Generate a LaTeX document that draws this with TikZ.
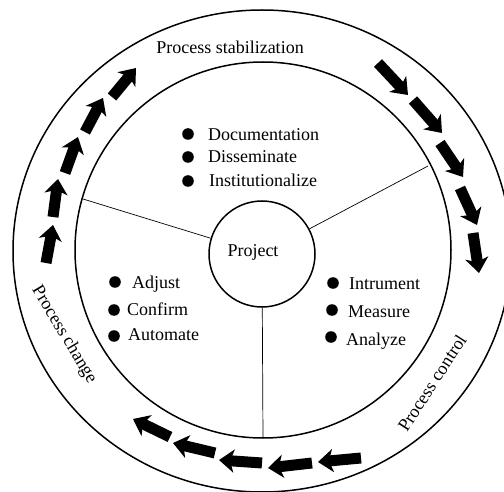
\documentclass[tikz,border=0pt]{standalone}
\usepackage{fontspec}
\setmainfont{Liberation Serif}
\usetikzlibrary{arrows.meta}

\begin{document}
\begin{tikzpicture}[x=1pt,y=-1pt,
    every node/.style={font=\fontsize{18}{21}\selectfont,inner sep=0pt},
    ring/.style={line width=1.5pt},
    spoke/.style={line width=0.7pt},
    blk/.style={line width=11pt,-{Stealth[length=15pt,width=23pt,inset=4pt]}},
    item/.style={anchor=base west},
    hub/.style={draw,circle,line width=1.5pt,minimum size=106pt}]
  \useasboundingbox (0,0) rectangle (504,492);
  % rings
  \draw[ring] (262,251) ellipse [x radius=249,y radius=241];
  \draw[ring] (263,250) circle [radius=188];
  \node[hub] (proj) at (262,254) {};
  \node (projtxt) at (253,252) {Project};
  % spokes
  \coordinate (sl) at (83,199);
  \coordinate (sr) at (428,166);
  \coordinate (sb) at (263,438);
  \draw[spoke] (proj) -- (sl);
  \draw[spoke] (proj) -- (sr);
  \draw[spoke] (proj) -- (sb);
  % items
  \foreach \bx/\by/\tx/\ty/\t [count=\i] in {
      188/134/208/141/Documentation, 188/157/208/163/Disseminate,
      188/181/209/187/Institutionalize,
      115/282/132/288/Adjust, 114/310/127/316/Confirm, 114/336/128/341/Automate,
      333/283/349/290/Intrument, 332/310/348/317/Measure, 331/337/346/345/Analyze} {
    \fill (\bx,\by) circle [radius=5.8];
    \node[item] (it\i) at (\tx,\ty) {\t};
  }
  % phases
  \node (stab) at (230,47) {Process stabilization};
  \node[rotate=-59] (chg) at (64,335) {Process change};
  \node[rotate=57] (ctl) at (432,383) {Process control};
  % block arrows
  \foreach \xa/\ya/\xb/\yb in {
      46/263/53/225, 53/217/58/179, 65/173/78/137, 85/132/103/98, 112/97/136/68,
      378/63/408/95, 413/100/442/133, 440/143/463/177, 460/188/477/225, 473/233/479/273,
      361/458/318/462, 312/463/268/468, 262/463/219/460, 215/453/173/443, 170/437/133/419}
    \draw[blk] (\xa,\ya) -- (\xb,\yb);
\end{tikzpicture}
\end{document}
